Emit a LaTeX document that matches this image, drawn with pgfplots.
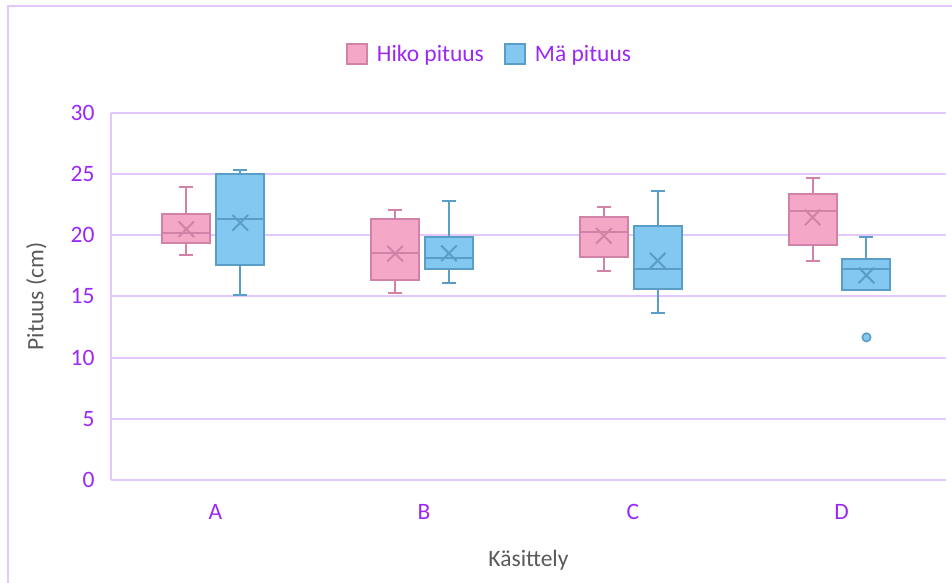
\documentclass[border=0pt]{standalone}
\usepackage{fontspec}
\setmainfont{Carlito}
\usepackage{pgfplots}
\pgfplotsset{compat=1.18}
\definecolor{pinkfill}{RGB}{245,167,200}
\definecolor{pinkedge}{RGB}{210,130,166}
\definecolor{bluefill}{RGB}{131,200,240}
\definecolor{blueedge}{RGB}{90,158,200}
\definecolor{gridcol}{RGB}{226,200,255}
\definecolor{tickcol}{RGB}{155,40,245}
\definecolor{titlecol}{RGB}{89,89,89}
\begin{document}
\begin{tikzpicture}
\useasboundingbox (0,0) rectangle (952bp,583bp);
\draw[gridcol, line width=1.8bp] (8bp,0) -- (8bp,577bp) -- (952bp,577bp);
\begin{axis}[
  at={(111bp,103bp)}, anchor=south west,
  scale only axis, width=835bp, height=367bp,
  font=\fontsize{23.5bp}{27bp}\selectfont,
  /pgf/number format/assume math mode=true,
  xmin=-0.5, xmax=3.5, ymin=0, ymax=30,
  xtick={0,1,2,3}, xticklabels={A,B,C,D},
  ytick={0,5,10,15,20,25,30},
  major tick length=0pt,
  ymajorgrids, grid style={gridcol, line width=2bp},
  axis y line*=left, axis x line*=bottom,
  axis line style={gridcol, line width=2bp, -},
  ticklabel style={text=tickcol},
  yticklabel style={xshift=-13bp},
  xticklabel style={yshift=-21bp},
  xlabel={Käsittely}, ylabel={Pituus (cm)},
  label style={text=titlecol},
  xlabel style={at={(axis description cs:0.5,-0.236)}, anchor=base},
  ylabel style={at={(axis description cs:-0.081,0.5)}, anchor=base},
  legend columns=2,
  legend style={at={(axis description cs:0.4533,1.161)}, anchor=center, draw=none, fill=none,
    text=tickcol,
    /tikz/every odd column/.append style={column sep=7bp},
    /tikz/every even column/.append style={column sep=18bp}},
  legend image code/.code={\draw[#1] (0bp,-10bp) rectangle (20bp,10bp);},
  unbounded coords=jump,
]
\addlegendimage{draw=pinkedge, fill=pinkfill, line width=2bp}
\addlegendentry{Hiko pituus}
\addlegendimage{draw=blueedge, fill=bluefill, line width=2bp}
\addlegendentry{Mä pituus}
% ---- Hiko pituus (pink): boxes from lower to upper quartile
\addplot[forget plot, draw=pinkedge, fill=pinkfill, line width=2bp]
  coordinates {(-0.254,19.35) (-0.024,19.35) (-0.024,21.74) (-0.254,21.74)} -- cycle;
\addplot[forget plot, draw=pinkedge, fill=pinkfill, line width=2bp]
  coordinates {(0.746,16.32) (0.976,16.32) (0.976,21.36) (0.746,21.36)} -- cycle;
\addplot[forget plot, draw=pinkedge, fill=pinkfill, line width=2bp]
  coordinates {(1.746,18.26) (1.976,18.26) (1.976,21.53) (1.746,21.53)} -- cycle;
\addplot[forget plot, draw=pinkedge, fill=pinkfill, line width=2bp]
  coordinates {(2.746,19.18) (2.976,19.18) (2.976,23.38) (2.746,23.38)} -- cycle;
% pink medians, whiskers, caps
\addplot[forget plot, draw=pinkedge, line width=2bp] coordinates {
  (-0.254,20.22) (-0.024,20.22) (nan,nan)
  (-0.139,21.74) (-0.139,23.98) (nan,nan) (-0.1725,23.98) (-0.1055,23.98) (nan,nan)
  (-0.139,19.35) (-0.139,18.42) (nan,nan) (-0.1725,18.42) (-0.1055,18.42) (nan,nan)
  (0.746,18.53) (0.976,18.53) (nan,nan)
  (0.861,21.36) (0.861,22.07) (nan,nan) (0.8275,22.07) (0.8945,22.07) (nan,nan)
  (0.861,16.32) (0.861,15.29) (nan,nan) (0.8275,15.29) (0.8945,15.29) (nan,nan)
  (1.746,20.27) (1.976,20.27) (nan,nan)
  (1.861,21.53) (1.861,22.32) (nan,nan) (1.8275,22.32) (1.8945,22.32) (nan,nan)
  (1.861,18.26) (1.861,17.08) (nan,nan) (1.8275,17.08) (1.8945,17.08) (nan,nan)
  (2.746,21.99) (2.976,21.99) (nan,nan)
  (2.861,23.38) (2.861,24.66) (nan,nan) (2.8275,24.66) (2.8945,24.66) (nan,nan)
  (2.861,19.18) (2.861,17.90) (nan,nan) (2.8275,17.90) (2.8945,17.90)
};
% ---- Mä pituus (blue): boxes
\addplot[forget plot, draw=blueedge, fill=bluefill, line width=2bp]
  coordinates {(0.004,17.55) (0.234,17.55) (0.234,25.0) (0.004,25.0)} -- cycle;
\addplot[forget plot, draw=blueedge, fill=bluefill, line width=2bp]
  coordinates {(1.004,17.22) (1.234,17.22) (1.234,19.86) (1.004,19.86)} -- cycle;
\addplot[forget plot, draw=blueedge, fill=bluefill, line width=2bp]
  coordinates {(2.004,15.64) (2.234,15.64) (2.234,20.79) (2.004,20.79)} -- cycle;
\addplot[forget plot, draw=blueedge, fill=bluefill, line width=2bp]
  coordinates {(3.004,15.56) (3.234,15.56) (3.234,18.07) (3.004,18.07)} -- cycle;
% blue medians, whiskers, caps
\addplot[forget plot, draw=blueedge, line width=2bp] coordinates {
  (0.004,21.36) (0.234,21.36) (nan,nan)
  (0.119,25.0) (0.119,25.34) (nan,nan) (0.0855,25.34) (0.1525,25.34) (nan,nan)
  (0.119,17.55) (0.119,15.10) (nan,nan) (0.0855,15.10) (0.1525,15.10) (nan,nan)
  (1.004,18.12) (1.234,18.12) (nan,nan)
  (1.119,19.86) (1.119,22.83) (nan,nan) (1.0855,22.83) (1.1525,22.83) (nan,nan)
  (1.119,17.22) (1.119,16.13) (nan,nan) (1.0855,16.13) (1.1525,16.13) (nan,nan)
  (2.004,17.28) (2.234,17.28) (nan,nan)
  (2.119,20.79) (2.119,23.65) (nan,nan) (2.0855,23.65) (2.1525,23.65) (nan,nan)
  (2.119,15.64) (2.119,13.62) (nan,nan) (2.0855,13.62) (2.1525,13.62) (nan,nan)
  (3.004,17.22) (3.234,17.22) (nan,nan)
  (3.119,18.07) (3.119,19.86) (nan,nan) (3.0855,19.86) (3.1525,19.86)
};
% outlier
\addplot[forget plot, only marks, mark=*, mark size=4.2bp,
  mark options={draw=blueedge, fill=bluefill, line width=1.6bp}]
  coordinates {(3.119,11.66)};
% means
\addplot[forget plot, only marks, mark=x, mark size=11bp, draw=pinkedge, mark options={line width=2bp}]
  coordinates {(-0.139,20.5) (0.861,18.5) (1.861,19.95) (2.861,21.47)};
\addplot[forget plot, only marks, mark=x, mark size=11bp, draw=blueedge, mark options={line width=2bp}]
  coordinates {(0.119,21.03) (1.119,18.53) (2.119,17.93) (3.119,16.73)};
\end{axis}
\end{tikzpicture}
\end{document}
